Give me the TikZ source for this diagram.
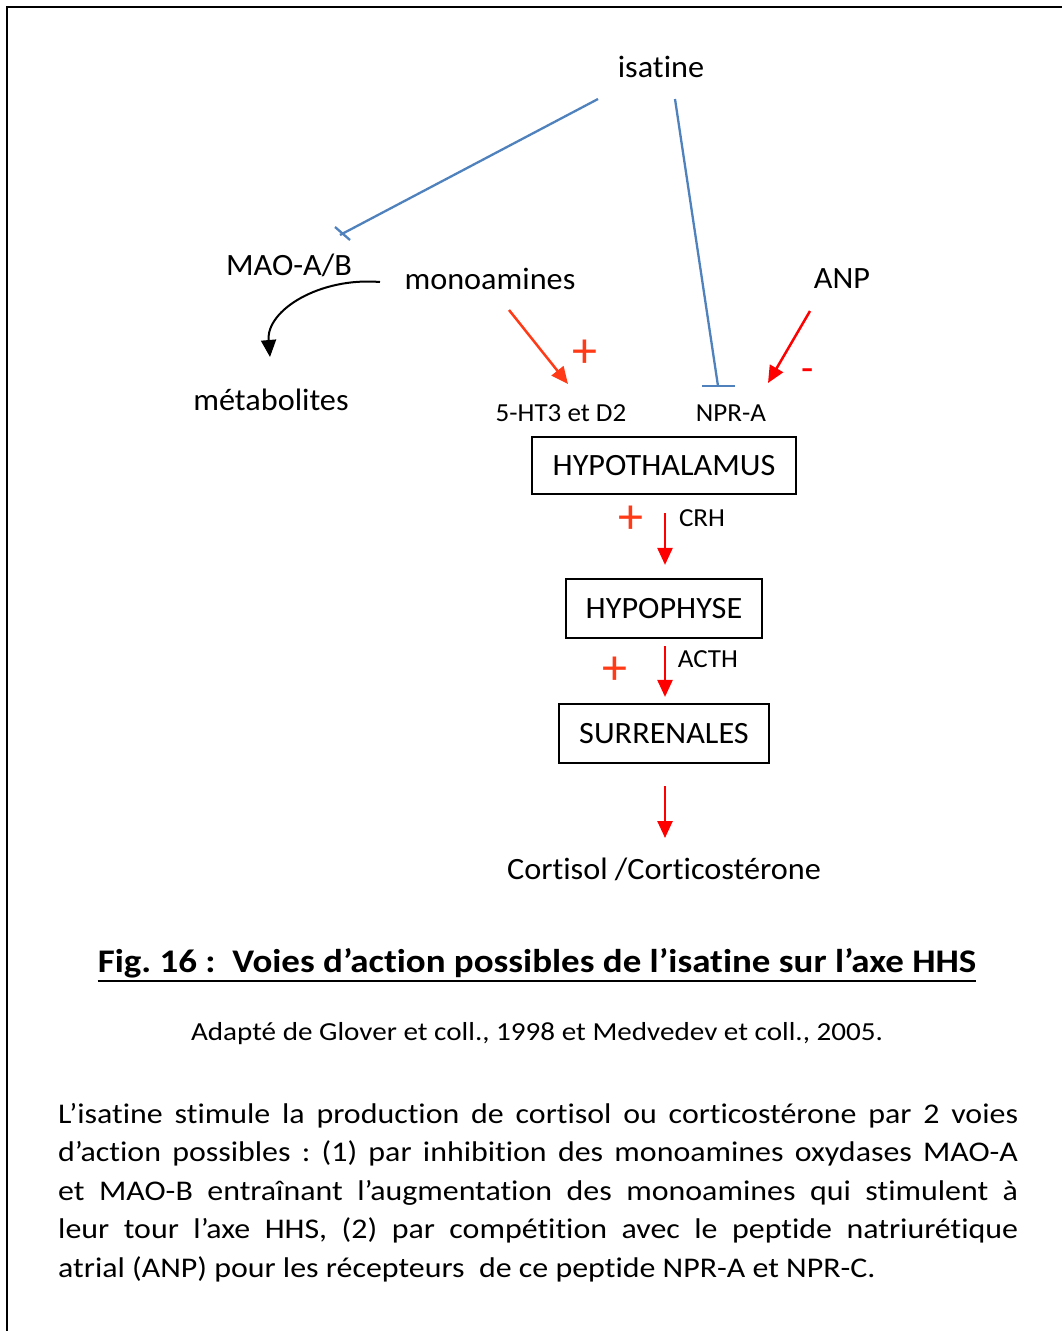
\documentclass[tikz,border=0pt]{standalone}
\usepackage{fontspec}
\setmainfont[Ligatures=CommonOff]{Carlito}
\newfontfamily\diagfont[FakeStretch=1.04,Ligatures=CommonOff]{Carlito}
\newfontfamily\widefont[FakeStretch=1.12,Ligatures=CommonOff]{Carlito}
\usetikzlibrary{arrows.meta}
\definecolor{inhib}{HTML}{4F81BD}
\definecolor{redA}{HTML}{FF0000}
\definecolor{redB}{HTML}{FF3B17}
\frenchspacing
\begin{document}
\begin{tikzpicture}[x=1pt,y=-1pt,
  lbl/.style={inner sep=0pt,font=\diagfont\fontsize{31}{36}\selectfont},
  smalllbl/.style={inner sep=0pt,font=\diagfont\fontsize{26}{30}\selectfont},
  sign/.style={inner sep=0pt,font=\fontsize{50}{56}\selectfont},
  organ/.style={draw,line width=2.2pt,inner sep=0pt,font=\diagfont\fontsize{31}{36}\selectfont},
  inhibline/.style={draw=inhib,line width=2.3pt},
  act/.style={draw=redA,line width=2.5pt,-{Triangle[length=17pt,width=15pt]}},
  actB/.style={draw=redB,line width=2.5pt,-{Triangle[length=17pt,width=15pt]}}]
\useasboundingbox (0,0) rectangle (1062,1331);
% frame (top and left edges visible)
\draw[line width=2.6pt] (7,1331) -- (7,7) -- (1062,7);

% nodes
\node[lbl] (isatine) at (661,67) {isatine};
\node[lbl] (mao) at (289,265) {MAO-A/B};
\node[lbl] (mono) at (490,279) {monoamines};
\node[lbl] (anp) at (842,279) {ANP};
\node[lbl] (meta) at (271,400) {métabolites};
\node[smalllbl] (ht) at (561,413) {5-HT3 et D2};
\node[smalllbl] (npr) at (731,413) {NPR-A};
\node[organ,minimum width=264pt,minimum height=57pt] (hypo) at (664,465.5) {HYPOTHALAMUS};
\node[organ,minimum width=196pt,minimum height=59pt] (hypoph) at (664,608.5) {HYPOPHYSE};
\node[organ,minimum width=210pt,minimum height=59pt] (surr) at (664,733.5) {SURRENALES};
\node[lbl] (cort) at (664,869) {Cortisol /Corticostérone};

% signs and small labels
\node[sign,text=redB] (p1) at (585,354) {+};
\node[sign,text=redA,font=\fontsize{40}{44}\selectfont] (m1) at (808,375) {-};
\node[sign,text=redB] (p2) at (631,520) {+};
\node[sign,text=redB] (p3) at (615,671) {+};
\node[smalllbl] (crh) at (702,518) {CRH};
\node[smalllbl] (acth) at (708,659) {ACTH};

% inhibitions
\draw[inhibline] ([shift={(-63,32)}]isatine.center) -- ([shift={(51,-30)}]mao.center);
\draw[inhibline] ([shift={(46,-38)}]mao.center) -- ([shift={(61,-25)}]mao.center);
\draw[inhibline] ([shift={(14,32)}]isatine.center) -- ([shift={(-13,-27)}]npr.center);
\draw[inhibline] ([shift={(-29,-27)}]npr.center) -- ([shift={(4,-27)}]npr.center);

% activations
\draw[actB] ([shift={(19,31)}]mono.center) -- ([shift={(7,-29)}]ht.center);
\draw[act] ([shift={(-32,32)}]anp.center) -- ([shift={(37,-30)}]npr.center);
\draw[line width=2pt,-{Triangle[length=17pt,width=15pt]}] ([shift={(-110,3)}]mono.center) .. controls ([shift={(-170,-2)}]mono.center) and ([shift={(-5,-90)}]meta.center) .. ([shift={(-1,-43)}]meta.center);
\draw[act] ([shift={(1,18)}]hypo.south) -- ([shift={(1,-13)}]hypoph.north);
\draw[act] ([shift={(1,7)}]hypoph.south) -- ([shift={(1,-6)}]surr.north);
\draw[act] ([shift={(1,22)}]surr.south) -- ([shift={(1,-31)}]cort.center);

% caption
\node[inner sep=0pt,font=\widefont\fontsize{33}{38}\selectfont\bfseries] (title) at (537,963) {Fig. 16 :\ \ Voies d’action possibles de l’isatine sur l’axe HHS};
\draw[line width=2pt] ([shift={(0,3)}]title.south west) -- ([shift={(0,3)}]title.south east);
\node[inner sep=0pt,font=\widefont\fontsize{26}{30}\selectfont] (src) at (537,1034) {Adapté de Glover et coll., 1998 et Medvedev et coll., 2005.};
\node[inner sep=0pt,anchor=base west] (para) at (58,1123) {\parbox[t]{960pt}{\widefont\fontsize{28.5}{38.6}\selectfont\frenchspacing L’isatine stimule la production de cortisol ou corticostérone par 2 voies\linebreak d’action possibles : (1) par inhibition des monoamines oxydases MAO-A\linebreak et MAO-B entraînant l’augmentation des monoamines qui stimulent à\linebreak leur tour l’axe HHS, (2) par compétition avec le peptide natriurétique\linebreak atrial (ANP) pour les récepteurs\ \ de ce peptide NPR-A et NPR-C.}};
\end{tikzpicture}
\end{document}
